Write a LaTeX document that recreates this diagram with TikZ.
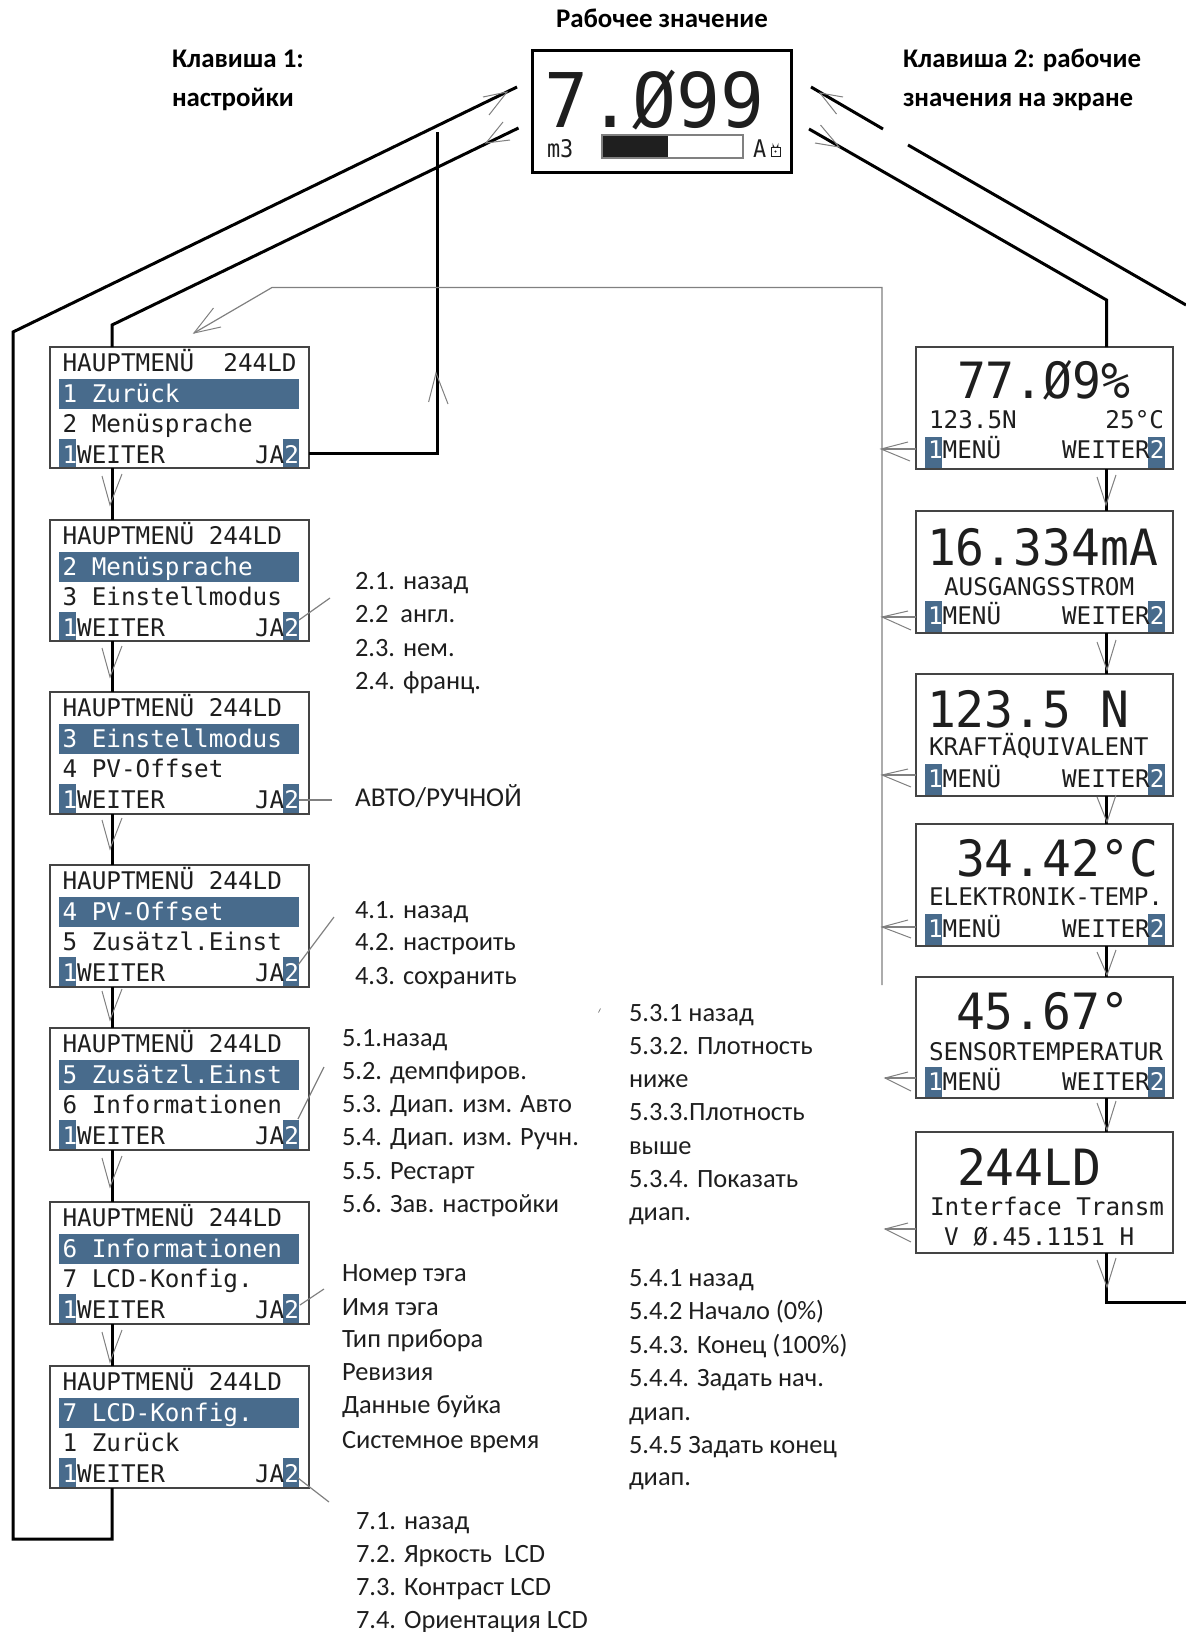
\documentclass[tikz,border=0pt]{standalone}
\usepackage{fontspec}
\setmainfont{Carlito}
\newfontfamily\lcd{DejaVu Sans Mono}
\definecolor{keyblue}{HTML}{486B8C}
\definecolor{framegrey}{HTML}{444444}
\definecolor{thingrey}{HTML}{808080}
\definecolor{inkc}{HTML}{1E1E1E}
\tikzset{
  lcdbox/.style={draw=framegrey,line width=1pt,anchor=north west,inner sep=0pt,outer sep=0pt,minimum width=#1},
  toplcd/.style={draw=black,line width=1.5pt,anchor=north west,inner sep=0pt,outer sep=0pt},
  lcdsmall/.style={anchor=base west,inner sep=0pt,outer sep=0pt,text=inkc,font=\lcd\fontsize{12.15pt}{14pt}\selectfont},
  lcdsmallr/.style={lcdsmall,anchor=base east},
  lcdbig/.style={anchor=base west,inner sep=0pt,outer sep=0pt,text=inkc,font=\lcd\fontsize{25pt}{30pt}\selectfont},
  lab/.style={anchor=base west,inner sep=0pt,outer sep=0pt,text=inkc,font=\fontsize{13.2pt}{15pt}\selectfont},
  hdr/.style={anchor=base west,inner sep=0pt,outer sep=0pt,text=black,font=\bfseries\fontsize{13.45pt}{15pt}\selectfont},
  flow/.style={draw=black,line width=1.5pt,line join=miter},
  thin link/.style={draw=thingrey,line width=.6pt},
  barb/.style={draw=thingrey,line width=.5pt,line join=miter},
}
% open arrow head: tip x,y; barb1 x,y; barb2 x,y
\newcommand\vhead[3]{\draw[barb] (#2) -- (#1) -- (#3);}
\newcommand\wh[1]{\textcolor{white}{#1}}
% left menu box: name, top, height, first line, highlighted, third line
\newcommand\menubox[6]{%
  \node[lcdbox=129.5pt,minimum height=#3*0.5pt] (#1) at (50,#2) {};
  \fill[keyblue] (59,#2+32) rectangle (299,#2+62);
  \fill[keyblue] (59,#2+92) rectangle (76,#2+#3-1);
  \fill[keyblue] (283,#2+92) rectangle (299,#2+#3-1);
  \node[lcdsmall] (#1a) at (62.5,#2+24) {#4};
  \node[lcdsmall] (#1b) at (62.5,#2+55) {\wh{#5}};
  \node[lcdsmall] (#1c) at (62.5,#2+85) {#6};
  \node[lcdsmall] (#1d) at (62.5,#2+116) {\wh{1}WEITER};
  \node[lcdsmallr] (#1e) at (299,#2+116) {JA\wh{2}};
}
% right display box: name, top, height
\newcommand\dispbox[3]{%
  \node[lcdbox=128.5pt,minimum height=#3*0.5pt] (#1) at (916,#2) {};
}
% keys: top, height, baseline offset
\newcommand\dispkeys[3]{%
  \fill[keyblue] (925,#1+90) rectangle (942,#1+#2-1);
  \fill[keyblue] (1148,#1+90) rectangle (1165,#1+#2-1);
  \node[lcdsmall] (k#1a) at (928,#1+#3) {\wh{1}MENÜ};
  \node[lcdsmallr] (k#1b) at (1164.5,#1+#3) {WEITER\wh{2}};
}
\begin{document}
\begin{tikzpicture}[x=0.5pt,y=-0.5pt]
\useasboundingbox (0,0) rectangle (1186,1632);

% top display
\node[toplcd,minimum width=129.5pt,minimum height=60.5pt] (top) at (532,51) {};
\node[lcdbig,font=\lcd\fontsize{37.7pt}{40pt}\selectfont] (topval) at (544,127) {\scalebox{.97}[1]{7.Ø99}};
\node[lcdsmall] (topunit) at (547,157) {\scalebox{.9}[1]{m3}};
\fill[black!88] (602,135) rectangle (668,158);
\draw[thingrey,line width=.6pt] (602,135) rectangle (743,158);
\node[lcdsmall] (topA) at (753,157) {\scalebox{.9}[1]{A}};
\draw[inkc,line width=.4pt] (771,147) rectangle (780,156);
\draw[inkc,line width=.4pt] (773,147) -- (773,145) arc (180:0:2.5) -- (778,147);
\fill[inkc] (775.5,151.5) circle (1.2);

% headings
\node[hdr] (hmid) at (556,28) {Рабочее значение};
\node[hdr] (hl1) at (172,68) {Клавиша 1:};
\node[hdr] (hl2) at (172,107) {настройки};
\node[hdr] (hr1) at (903,68) {Клавиша 2: рабочие};
\node[hdr] (hr2) at (903,107) {значения на экране};

% left column
\menubox{la}{347}{121}{HAUPTMENÜ\ \ 244LD}{1 Zurück}{2 Menüsprache}
\menubox{lb}{520}{121}{HAUPTMENÜ 244LD}{2 Menüsprache}{3 Einstellmodus}
\menubox{lc}{692}{122}{HAUPTMENÜ 244LD}{3 Einstellmodus}{4 PV-Offset}
\menubox{ld}{865}{122}{HAUPTMENÜ 244LD}{4 PV-Offset}{5 Zusätzl.Einst}
\menubox{le}{1028}{122}{HAUPTMENÜ 244LD}{5 Zusätzl.Einst}{6 Informationen}
\menubox{lf}{1202}{122}{HAUPTMENÜ 244LD}{6 Informationen}{7 LCD-Konfig.}
\menubox{lg}{1366}{122}{HAUPTMENÜ 244LD}{7 LCD-Konfig.}{1 Zurück}

% right column
\dispbox{ra}{347}{122}
\dispkeys{347}{122}{111}
\dispbox{rb}{511}{122}
\dispkeys{511}{122}{113}
\dispbox{rc}{674}{122}
\dispkeys{674}{122}{113}
\dispbox{rd}{824}{122}
\dispkeys{824}{122}{113}
\dispbox{re}{977}{121}
\dispkeys{977}{121}{113}
\dispbox{rf}{1132}{121}

\node[lcdbig] (ra1) at (957,398) {\scalebox{.96}[1]{77.Ø9\%}};
\node[lcdsmall] (ra2) at (929,428) {123.5N};
\node[lcdsmallr] (ra3) at (1164,428) {25°C};
\node[lcdbig] (rb1) at (927,565) {\scalebox{.96}[1]{16.334mA}};
\node[lcdsmall] (rb2) at (944,595) {AUSGANGSSTROM};
\node[lcdbig] (rc1) at (927,727) {\scalebox{.96}[1]{123.5 N}};
\node[lcdsmall] (rc2) at (929,755) {KRAFTÄQUIVALENT};
\node[lcdbig] (rd1) at (956,876) {\scalebox{.96}[1]{34.42°C}};
\node[lcdsmall] (rd2) at (929,905) {ELEKTRONIK-TEMP.};
\node[lcdbig] (re1) at (956,1029) {\scalebox{.96}[1]{45.67°}};
\node[lcdsmall] (re2) at (929,1060) {SENSORTEMPERATUR};
\node[lcdbig] (rf1) at (957,1185) {\scalebox{.96}[1]{244LD}};
\node[lcdsmall] (rf2) at (930,1215) {Interface Transm};
\node[lcdsmall] (rf3) at (944,1245) {V Ø.45.1151 H};

% anchors for the connector lines
\coordinate (lx) at (112,0);
\coordinate (rx) at (1106.5,0);
\coordinate (l1) at (517,87);
\coordinate (l2) at (13,332);
\coordinate (l3) at (13,1539);
\coordinate (l4) at (112,1539);
\coordinate (l5) at (518.5,128);
\coordinate (l6) at (112,325);
\coordinate (l7) at (437.5,453);
\coordinate (l8) at (437.5,132);
\coordinate (r1) at (811,87);
\coordinate (r2) at (883,129);
\coordinate (r3) at (908,145);
\coordinate (r4) at (1186,305);
\coordinate (r5) at (809,129);
\coordinate (r6) at (1106.5,300);
\coordinate (r7) at (1106.5,1302);
\coordinate (r8) at (1186,1302);

% thick flow lines
\draw[flow] (l1) -- (l2) -- (l3) -- (l4) -- (lx |- lg.south);
\draw[flow] (l5) -- (l6) -- (lx |- la.north);
\draw[flow] (la.south -| lx) -- (lb.north -| lx);
\draw[flow] (lb.south -| lx) -- (lc.north -| lx);
\draw[flow] (lc.south -| lx) -- (ld.north -| lx);
\draw[flow] (ld.south -| lx) -- (le.north -| lx);
\draw[flow] (le.south -| lx) -- (lf.north -| lx);
\draw[flow] (lf.south -| lx) -- (lg.north -| lx);
\draw[flow] (la.east |- l7) -- (l7) -- (l8);
\draw[flow] (r1) -- (r2);
\draw[flow] (r3) -- (r4);
\draw[flow] (r5) -- (r6) -- (rx |- ra.north);
\draw[flow] (ra.south -| rx) -- (rb.north -| rx);
\draw[flow] (rb.south -| rx) -- (rc.north -| rx);
\draw[flow] (rc.south -| rx) -- (rd.north -| rx);
\draw[flow] (rd.south -| rx) -- (re.north -| rx);
\draw[flow] (re.south -| rx) -- (rf.north -| rx);
\draw[flow] (rf.south -| rx) -- (r7) -- (r8);

% thin return line
\coordinate (g1) at (882,985);
\coordinate (g2) at (882,287.5);
\coordinate (g3) at (272,287.5);
\coordinate (g4) at (194,333);
\draw[thin link] (g1) -- (g2) -- (g3) -- (g4);
\coordinate (ga) at (882,449);
\coordinate (gb) at (882,617);
\coordinate (gc) at (882,775);
\coordinate (gd) at (882,927);
\coordinate (ge) at (885,1078);
\coordinate (gf) at (885,1229);
\draw[thin link] (ra.west |- ga) -- (ga);
\draw[thin link] (rb.west |- gb) -- (gb);
\draw[thin link] (rc.west |- gc) -- (gc);
\draw[thin link] (rd.west |- gd) -- (gd);
\draw[thin link] (re.west |- ge) -- (ge);
\draw[thin link] (rf.west |- gf) -- (gf);

% arrow heads
\vhead{507,92}{483,97}{489,115}
\vhead{486,143}{503,122}{510,140}
\vhead{436,373}{428.6,402}{448,404}
\vhead{194,333}{213.5,308}{221,327}
\vhead{820,93}{843,97}{836.5,114}
\vhead{839,147}{820.5,125}{815,143}
\vhead{881,449}{908,442}{910,461}
\vhead{882,617}{908,611}{911,630}
\vhead{882,775}{908,769}{911,787}
\vhead{882,927}{908,920}{911,938}
\vhead{885,1078}{908,1072}{911,1091}
\vhead{885,1229}{908,1223}{911,1242}
% left chain
\vhead{110,505}{102,476}{122,474}
\vhead{110,677}{102,648}{122,646}
\vhead{110,849}{102,820}{122,818}
\vhead{110,1020}{102,991}{122,989}
\vhead{110,1187}{102,1158}{122,1156}
\vhead{110,1362}{102,1332}{122,1330}
% right chain
\vhead{1106,505}{1097,477}{1116,475}
\vhead{1107,670}{1097,642}{1116,640}
\vhead{1107,822}{1097,797}{1116,795}
\vhead{1107,975}{1097,952}{1116,950}
\vhead{1107,1130}{1097,1103}{1116,1101}
\vhead{1107,1287}{1097,1260}{1116,1258}

% callouts to the text lists
\coordinate (cb) at (330,598);
\coordinate (cc) at (332,800);
\coordinate (cd) at (334,917);
\coordinate (ce) at (324,1067);
\coordinate (cf) at (324,1289);
\coordinate (cg) at (329,1502);
\draw[thin link] (299,620) -- (cb);
\draw[thin link] (299,800) -- (cc);
\draw[thin link] (298,965) -- (cd);
\draw[thin link] (298,1119) -- (ce);
\draw[thin link] (300,1305) -- (cf);
\draw[thin link] (298,1478) -- (cg);
\draw[thingrey,line width=.4pt] (598.5,1012.5) -- (600.5,1008.5);

% text lists
\node[lab] (t21) at (355,589) {2.1. назад};
\node[lab] (t22) at (355,622) {2.2\ \ англ.};
\node[lab] (t23) at (355,656) {2.3. нем.};
\node[lab] (t24) at (355,689) {2.4. франц.};
\node[lab,font=\fontsize{13.6pt}{15pt}\selectfont] (t30) at (355,806) {АВТО/РУЧНОЙ};
\node[lab] (t41) at (355,918) {4.1. назад};
\node[lab] (t42) at (355,950) {4.2. настроить};
\node[lab] (t43) at (355,984) {4.3. сохранить};
\node[lab] (t51) at (342,1046) {5.1.назад};
\node[lab] (t52) at (342,1079) {5.2. демпфиров.};
\node[lab] (t53) at (342,1112) {5.3. Диап. изм. Авто};
\node[lab] (t54) at (342,1145.5) {5.4. Диап. изм. Ручн.};
\node[lab] (t55) at (342,1179) {5.5. Рестарт};
\node[lab] (t56) at (342,1212) {5.6. Зав. настройки};
\node[lab] (t61) at (342,1281.5) {Номер тэга};
\node[lab] (t62) at (342,1315) {Имя тэга};
\node[lab] (t63) at (342,1347) {Тип прибора};
\node[lab] (t64) at (342,1380) {Ревизия};
\node[lab] (t65) at (342,1413) {Данные буйка};
\node[lab] (t66) at (342,1448) {Системное время};
\node[lab] (t71) at (356,1529) {7.1. назад};
\node[lab] (t72) at (356,1562) {7.2. Яркость\ \ LCD};
\node[lab] (t73) at (356,1595) {7.3. Контраст LCD};
\node[lab] (t74) at (356,1628) {7.4. Ориентация LCD};
\node[lab] (u1) at (629,1021.5) {5.3.1 назад};
\node[lab] (u2) at (629,1054) {5.3.2. Плотность};
\node[lab] (u3) at (629,1087) {ниже};
\node[lab] (u4) at (629,1120.5) {5.3.3.Плотность};
\node[lab] (u5) at (629,1154) {выше};
\node[lab] (u6) at (629,1187) {5.3.4. Показать};
\node[lab] (u7) at (629,1220) {диап.};
\node[lab] (v1) at (629,1286.5) {5.4.1 назад};
\node[lab] (v2) at (629,1319) {5.4.2 Начало (0\%)};
\node[lab] (v3) at (629,1353) {5.4.3. Конец (100\%)};
\node[lab] (v4) at (629,1386) {5.4.4. Задать нач.};
\node[lab] (v5) at (629,1420) {диап.};
\node[lab] (v6) at (629,1453) {5.4.5 Задать конец};
\node[lab] (v7) at (629,1485) {диап.};
\end{tikzpicture}
\end{document}
